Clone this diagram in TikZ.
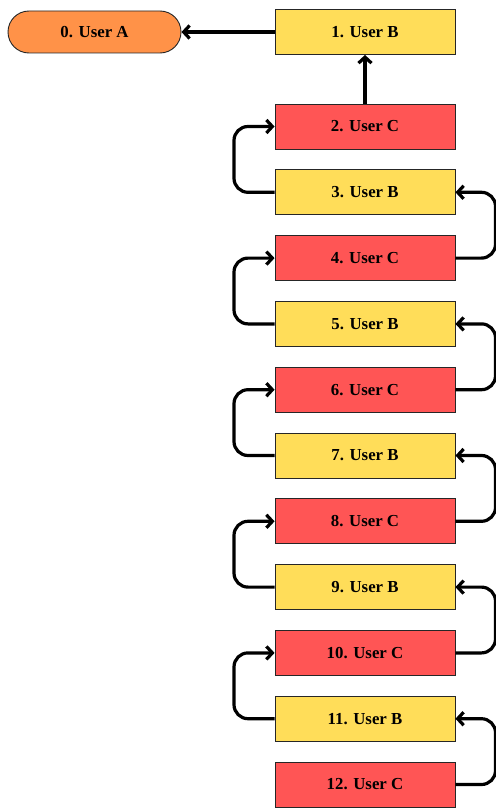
\documentclass[tikz,border=0pt]{standalone}
\usepackage{fontspec}
\setmainfont{Liberation Serif}
\usetikzlibrary{arrows.meta,shapes.misc}
\definecolor{cyel}{RGB}{255,221,89}
\definecolor{cred}{RGB}{255,85,85}
\definecolor{corg}{RGB}{255,146,72}
\begin{document}
\begin{tikzpicture}[x=1pt,y=1pt,
  box/.style={draw=black!85,line width=0.9pt,minimum width=180pt,minimum height=45pt,inner sep=0pt,
    font=\fontsize{16.8}{18}\selectfont\bfseries},
  ub/.style={box,fill=cyel},
  uc/.style={box,fill=cred},
  ua/.style={box,fill=corg,rounded rectangle,minimum width=173pt,minimum height=42pt},
  conn/.style={line width=3.2pt,-{Straight Barb[length=6pt,width=13pt]},rounded corners=14pt}]
\useasboundingbox (0,0) rectangle (495,-808);
\node[ua] (n0) at (94.5,-32) {0. User A};
\node[ub] (n1) at (365,-32) {1. User B};
\node[uc] (n2) at (365,-126.5) {2. User C};
\node[ub] (n3) at (365,-192.3) {3. User B};
\node[uc] (n4) at (365,-258.1) {4. User C};
\node[ub] (n5) at (365,-323.9) {5. User B};
\node[uc] (n6) at (365,-389.7) {6. User C};
\node[ub] (n7) at (365,-455.5) {7. User B};
\node[uc] (n8) at (365,-521.3) {8. User C};
\node[ub] (n9) at (365,-587.1) {9. User B};
\node[uc] (n10) at (365,-652.9) {10. User C};
\node[ub] (n11) at (365,-718.7) {11. User B};
\node[uc] (n12) at (365,-784.5) {12. User C};
\draw[conn] (n1.west) -- (n0.east);
\draw[conn] (n2.north) -- (n1.south);
\foreach \b/\c in {3/2,5/4,7/6,9/8,11/10}{
  \draw[conn] (n\b.west) -- (234,0 |- n\b.west) -- (234,0 |- n\c.west) -- (n\c.west);
}
\foreach \c/\b in {4/3,6/5,8/7,10/9,12/11}{
  \draw[conn] (n\c.east) -- (495.5,0 |- n\c.east) -- (495.5,0 |- n\b.east) -- (n\b.east);
}
\end{tikzpicture}
\end{document}
